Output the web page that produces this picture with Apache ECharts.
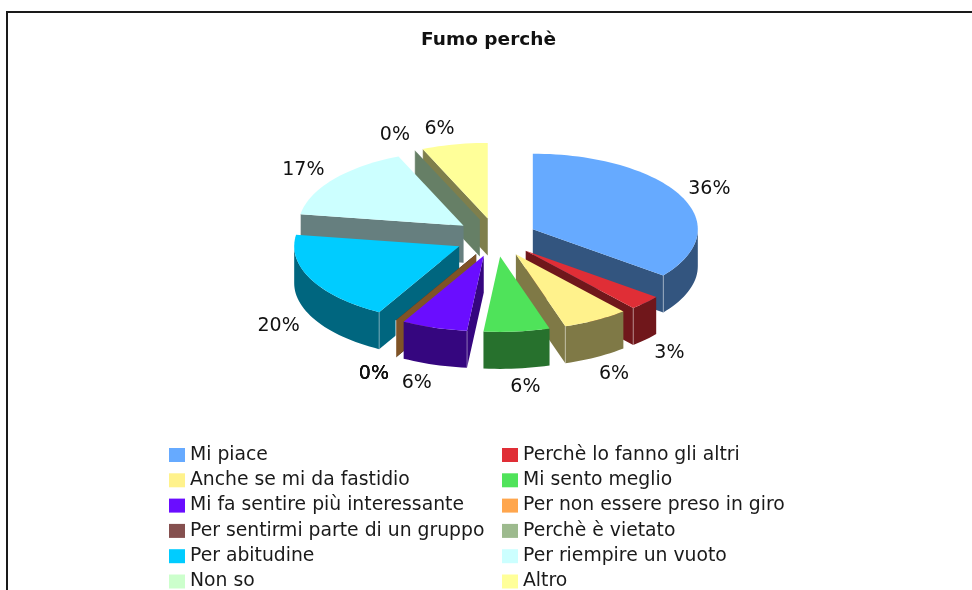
<!DOCTYPE html>
<html>
<head>
<meta charset="utf-8">
<title>Fumo perchè</title>
<script src="https://cdn.jsdelivr.net/npm/echarts@6/dist/echarts.min.js"></script>
<style>
  html, body { margin: 0; padding: 0; background: #fff; overflow: hidden; }
  #chart { width: 972px; height: 590px; }
</style>
</head>
<body>
<div id="chart"></div>
<script>
var chartTitle = 'Fumo perchè'
var categories = [
  'Mi piace', 'Perchè lo fanno gli altri', 'Anche se mi da fastidio', 'Mi sento meglio',
  'Mi fa sentire più interessante', 'Per non essere preso in giro', 'Per sentirmi parte di un gruppo', 'Perchè è vietato',
  'Per abitudine', 'Per riempire un vuoto', 'Non so', 'Altro'
]
var sliceValues = [11, 1, 2, 2, 2, 0, 0, 0, 6, 5, 0, 2]
// labels as printed on the chart
var percentLabels = ['36%', '3%', '6%', '6%', '6%', '0%', '0%', '0%', '20%', '17%', '0%', '6%']
var sliceColors = [
  '#66aaff', '#e02e36', '#fff28c', '#4fe35a',
  '#6a0dff', '#ffa64d', '#85504f', '#9dba8e',
  '#00ccff', '#ccffff', '#ccffcc', '#ffff99'
]
// back slices first, so the front ones cover them
var paintOrder = [11, 10, 9, 8, 7, 6, 5, 4, 0, 1, 2, 3]

var pie = { cx: 496, cy: 238, rx: 165, ry: 75.5, depth: 37, explodeX: 41, explodeUp: 20, explodeDown: 18.5 }
var total = sliceValues.reduce(function (a, b) { return a + b }, 0)

function darken(hex) {
  var n = parseInt(hex.slice(1), 16)
  var r = (n >> 16) >> 1, g = ((n >> 8) & 255) >> 1, b = (n & 255) >> 1
  return 'rgb(' + r + ',' + g + ',' + b + ')'
}

function rad(deg) { return deg * Math.PI / 180 }

function sliceShape(i) {
  return function (params, api) {
    var start = api.value(0) / total * 360
    var end = start + api.value(1) / total * 360
    var mid = (start + end) / 2
    var sinMid = Math.sin(rad(mid)), cosMid = Math.cos(rad(mid))
    var ax = pie.cx + pie.explodeX * sinMid
    var ay = pie.cy - (cosMid > 0 ? pie.explodeUp : pie.explodeDown) * cosMid
    var outer = function (deg) {
      return [ax + pie.rx * Math.sin(rad(deg)), ay - pie.ry * Math.cos(rad(deg))]
    }
    var arc = function (from, to) {
      var pts = [], steps = Math.max(1, Math.ceil((to - from) / 2))
      for (var k = 0; k <= steps; k++) pts.push(outer(from + (to - from) * k / steps))
      return pts
    }
    var down = function (p) { return [p[0], p[1] + pie.depth] }
    var side = darken(sliceColors[i])
    var children = [], corners = []
    var face = function (deg) {
      var p = outer(deg)
      children.push({ type: 'polygon', shape: { points: [[ax, ay], p, down(p), [ax, ay + pie.depth]] }, style: { fill: side } })
      corners.push({ type: 'line', shape: { x1: p[0], y1: p[1], x2: p[0], y2: p[1] + pie.depth }, style: { stroke: 'rgba(255,255,255,0.4)', lineWidth: 1 } })
    }
    // side faces, only the ones turned to the viewer
    if (Math.sin(rad(start)) < -0.01) face(start)
    if (end > start && Math.sin(rad(end)) > 0.01) face(end)
    // outer wall, front half of the ellipse only
    var wallFrom = Math.max(start, 90), wallTo = Math.min(end, 270)
    if (wallTo > wallFrom) {
      var top = arc(wallFrom, wallTo)
      children.push({ type: 'polygon', shape: { points: top.concat(top.map(down).reverse()) }, style: { fill: side } })
    }
    children = children.concat(corners)
    if (end > start) {
      children.push({ type: 'polygon', shape: { points: [[ax, ay]].concat(arc(start, end)) }, style: { fill: sliceColors[i] } })
    }
    var p = outer(mid)
    var sign = sinMid < 0 ? -1 : 1
    children.push({
      type: 'text',
      x: p[0] + 25 * sinMid + 8 * sign - 2,
      y: p[1] + (cosMid < 0 ? pie.depth - 17 * cosMid + 2 : 16 * -cosMid),
      style: { text: percentLabels[i], fill: '#111', stroke: null, lineWidth: 0, font: '19px "DejaVu Sans"', align: 'center', verticalAlign: 'middle' },
      z2: 10
    })
    return { type: 'group', children: children }
  }
}

var cumulative = []
sliceValues.forEach(function (v, i) { cumulative[i] = i === 0 ? 0 : cumulative[i - 1] + sliceValues[i - 1] })

var series = paintOrder.map(function (i) {
  return {
    type: 'custom',
    name: categories[i],
    coordinateSystem: 'none',
    animation: false,
    silent: true,
    itemStyle: { color: sliceColors[i] },
    renderItem: sliceShape(i),
    data: [[cumulative[i], sliceValues[i]]]
  }
})

function legendColumn(names, left) {
  return {
    orient: 'vertical',
    left: left,
    top: 443.5,
    height: 200,
    padding: 0,
    itemWidth: 16,
    itemHeight: 14,
    itemGap: 2.3,
    selectedMode: false,
    icon: 'rect',
    data: names,
    textStyle: { fontFamily: 'DejaVu Sans', fontSize: 18.8, color: '#1a1a1a', lineHeight: 19, padding: [4, 0, 0, 0] }
  }
}

var chart = echarts.init(document.getElementById('chart'), null, { renderer: 'canvas' })
chart.setOption({
  backgroundColor: '#fff',
  animation: false,
  title: {
    text: chartTitle,
    left: 488.5,
    top: 31,
    padding: 0,
    textAlign: 'center',
    textStyle: { fontFamily: 'DejaVu Sans', fontSize: 18.5, fontWeight: 'bold', color: '#111' }
  },
  legend: [
    legendColumn(categories.filter(function (c, i) { return i % 2 === 0 }), 169),
    legendColumn(categories.filter(function (c, i) { return i % 2 === 1 }), 502)
  ],
  graphic: [{
    type: 'polyline',
    silent: true,
    shape: { points: [[7, 590], [7, 12], [972, 12]] },
    style: { stroke: '#1a1a1a', lineWidth: 2, fill: null }
  }],
  series: series
})
</script>
</body>
</html>
